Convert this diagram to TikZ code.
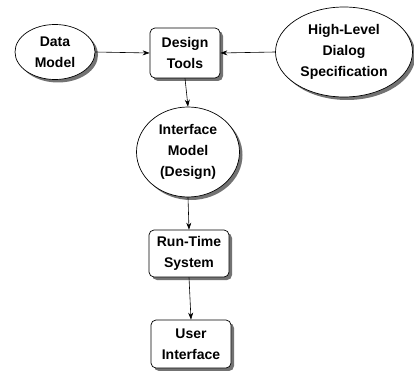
\documentclass[tikz,border=0pt]{standalone}
\usepackage{fontspec}
\setmainfont{Liberation Sans}
\usetikzlibrary{shapes.geometric,shadows,arrows.meta}
\begin{document}
\begin{tikzpicture}[x=1pt,y=-1pt,
  shade/.style={drop shadow={shadow xshift=3pt,shadow yshift=-3pt,fill=black!55,opacity=1}},
  oval/.style={ellipse,draw,line width=0.7pt,fill=white,shade,inner sep=0pt,align=center,font=\fontsize{14}{21}\selectfont\bfseries},
  rbox/.style={rectangle,rounded corners=5pt,draw,line width=0.7pt,fill=white,shade,inner sep=0pt,align=center,font=\fontsize{14}{21}\selectfont\bfseries},
  conn/.style={line width=0.6pt,-{Stealth[length=7pt,width=5pt]}}]
\useasboundingbox (0,0) rectangle (414,371);
\node[oval,minimum width=80pt,minimum height=55pt] (dm) at (55,52) {Data\\Model};
\node[rbox,minimum width=70pt,minimum height=50pt] (dt) at (185,53) {Design\\Tools};
\node[oval,minimum width=137pt,minimum height=90pt] (hl) at (344,52) {High-Level\\Dialog\\Specification};
\node[oval,minimum width=103pt,minimum height=90pt] (im) at (188,152) {Interface\\Model\\(Design)};
\node[rbox,minimum width=80pt,minimum height=47pt] (rt) at (189,253.5) {Run-Time\\System};
\node[rbox,minimum width=80pt,minimum height=48pt] (ui) at (191,344) {User\\Interface};
\draw[conn] (dm.east) -- (dt.west);
\draw[conn] (hl.west) -- (dt.east);
\draw[conn] (dt.south) -- (im.north);
\draw[conn] (im.south) -- (rt.north);
\draw[conn] (rt.south) -- (ui.north);
\end{tikzpicture}
\end{document}
